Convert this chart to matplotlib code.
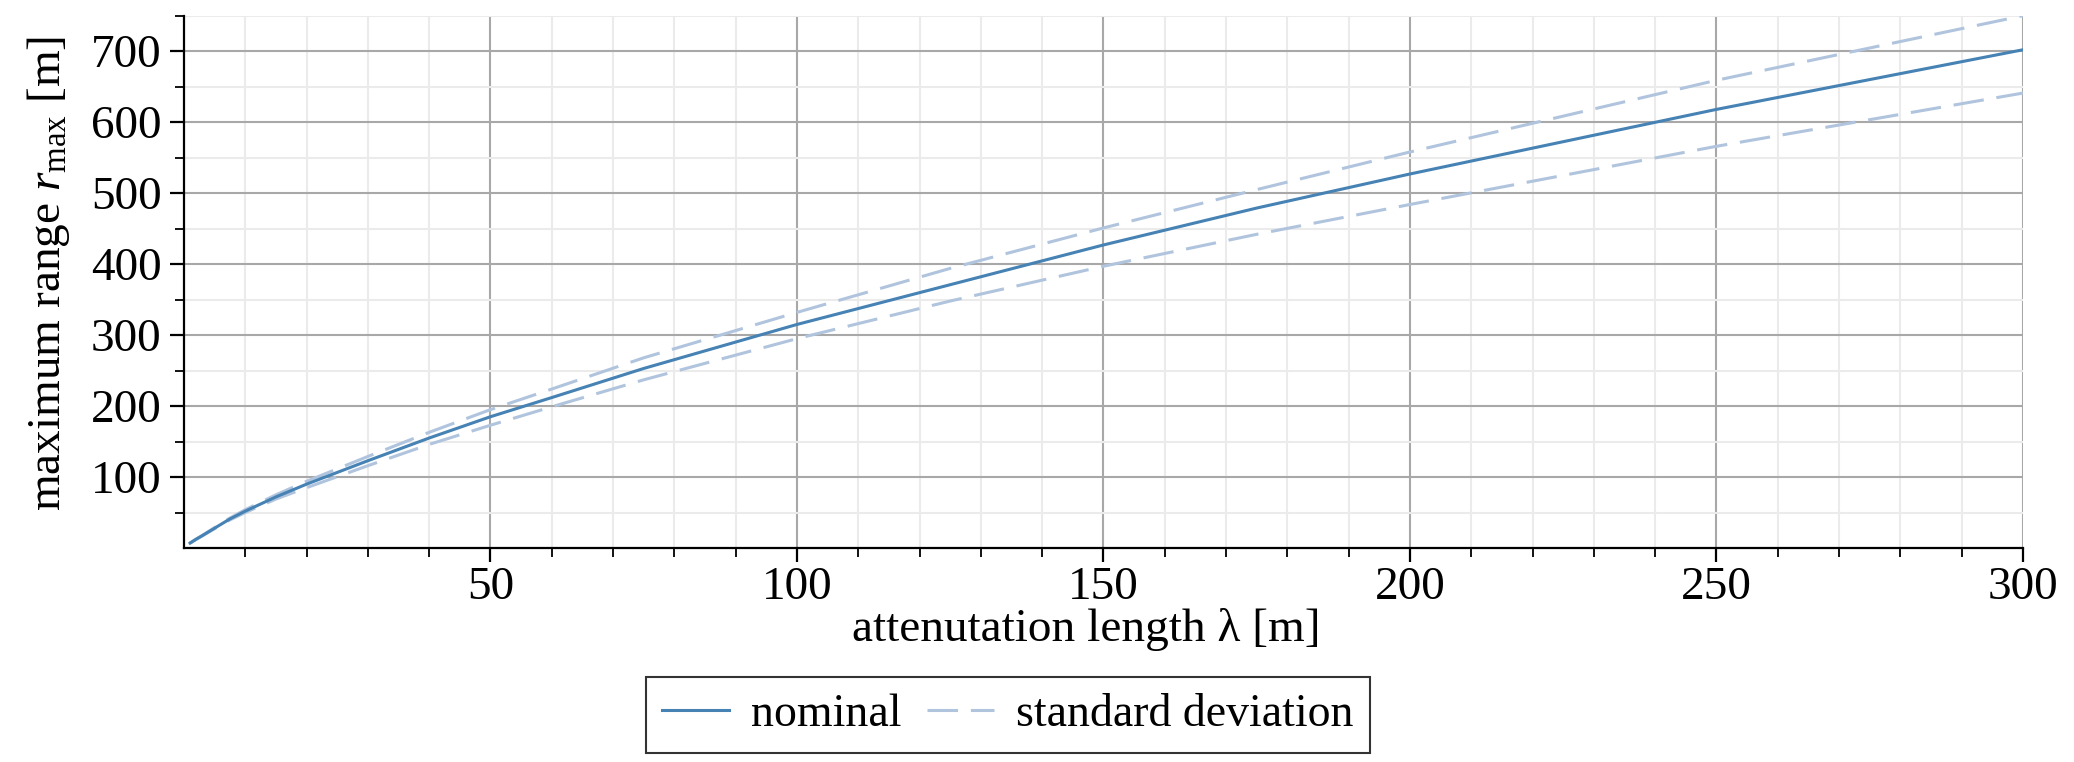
import matplotlib
matplotlib.use("Agg")
import matplotlib.pyplot as plt
from matplotlib.ticker import FixedLocator

plt.rcParams['font.family'] = ['Liberation Serif', 'DejaVu Serif']
plt.rcParams['mathtext.fontset'] = 'custom'
plt.rcParams['mathtext.rm'] = 'Liberation Serif'
plt.rcParams['mathtext.it'] = 'Liberation Serif:italic'

# values
att_length = [1, 2, 3, 5, 7.5, 10, 15, 20, 30, 40, 50, 60, 75, 100, 125, 150, 175, 200, 250, 300]
r_nominal = [7, 12.5, 17.5, 28, 41, 52, 72, 90, 123, 155, 185, 212, 253, 315, 371, 427, 479, 527, 618, 702]
r_upper = [7, 12.7, 17.9, 28.8, 42.3, 54, 75, 94, 129, 163, 195, 224, 268, 332, 394, 451, 505, 558, 659, 750]
r_lower = [7, 12.3, 17.1, 27.2, 39.6, 50, 69, 85, 116, 146, 173, 199, 237, 295, 348, 397, 442, 484, 566, 641]

x_major = [50, 100, 150, 200, 250, 300]
y_major = [100, 200, 300, 400, 500, 600, 700]

fig = plt.figure(figsize=(20.74, 7.62), dpi=100)
ax = fig.add_axes([0.0887, 0.2808, 0.9754 - 0.0887, 0.9794 - 0.2808])

ax.plot(att_length, r_nominal, color='#4682b4', lw=2.2, label='nominal', zorder=3)
ax.plot(att_length, r_upper, color='#b0c4de', lw=2.2, dashes=(10, 4.2),
        label='standard deviation', zorder=2)
ax.plot(att_length, r_lower, color='#b0c4de', lw=2.2, dashes=(10, 4.2), zorder=2)

ax.set_xlim(0, 300)
ax.set_ylim(0, 750)
ax.xaxis.set_major_locator(FixedLocator(x_major))
ax.yaxis.set_major_locator(FixedLocator(y_major))
ax.xaxis.set_minor_locator(FixedLocator([v for v in range(10, 300, 10) if v % 50]))
ax.yaxis.set_minor_locator(FixedLocator(list(range(50, 751, 100))))

ax.grid(which='major', color='#a8a8a8', lw=1.5, zorder=0)
ax.grid(which='minor', color='#ebebeb', lw=1.5, zorder=0)
ax.set_axisbelow(True)

for s in ['top', 'right']:
    ax.spines[s].set_visible(False)
for s in ['left', 'bottom']:
    ax.spines[s].set_linewidth(1.6)

ax.tick_params(which='major', direction='out', length=10, width=1.6,
               labelsize=34, pad=6)
ax.tick_params(axis='x', which='major', pad=3)
ax.tick_params(which='minor', direction='out', length=6.5, width=1.3)

ax.set_xlabel('attenutation length λ [m]', fontsize=34)
ax.xaxis.set_label_coords(0.4905, -0.112)
ax.set_ylabel(r'maximum range $r_{\mathrm{max}}$ [m]', fontsize=34)
ax.yaxis.set_label_coords(-0.061, 0.515)

leg = fig.legend(loc='center', bbox_to_anchor=(1008 / 2074, 1 - 715 / 762),
                 ncol=2, fontsize=33, frameon=True, fancybox=False,
                 handlelength=1.45, handletextpad=0.5, columnspacing=0.55,
                 borderpad=0.36, borderaxespad=0)
leg.get_frame().set_edgecolor('black')
leg.get_frame().set_linewidth(1.5)

fig.savefig('out.png', dpi=100)
